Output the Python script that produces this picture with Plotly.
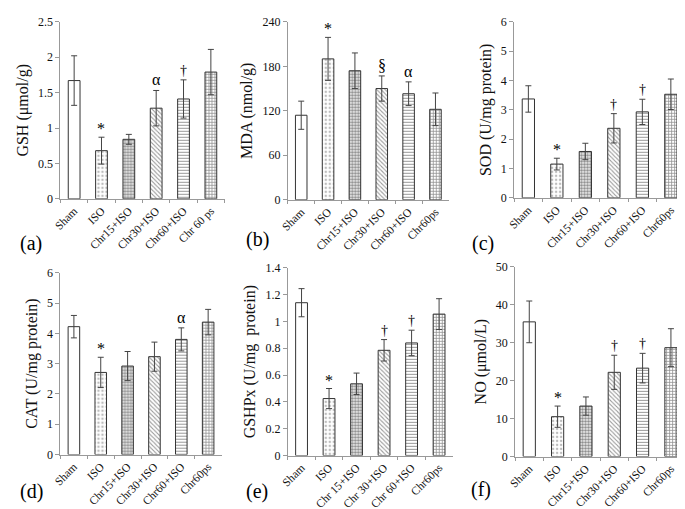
import plotly.graph_objects as go

labels_a = ["Sham", "ISO", "Chr15+ISO", "Chr30+ISO", "Chr60+ISO", "Chr 60 ps"]
labels_std = ["Sham", "ISO", "Chr15+ISO", "Chr30+ISO", "Chr60+ISO", "Chr60ps"]
labels_e = ["Sham", "ISO", "Chr 15+ISO", "Chr 30+ISO", "Chr 60+ISO", "Chr60ps"]

gsh = [1.67, 0.68, 0.84, 1.28, 1.41, 1.79]
gsh_err = [0.35, 0.19, 0.07, 0.25, 0.27, 0.32]
mda = [114, 190, 174, 150, 143, 122]
mda_err = [19, 29, 24, 17, 16, 22]
sod = [3.37, 1.15, 1.58, 2.37, 2.93, 3.53]
sod_err = [0.45, 0.2, 0.28, 0.5, 0.43, 0.52]
cat = [4.22, 2.71, 2.92, 3.23, 3.8, 4.37]
cat_err = [0.37, 0.5, 0.48, 0.48, 0.38, 0.42]
gshpx = [1.14, 0.425, 0.535, 0.785, 0.84, 1.055]
gshpx_err = [0.105, 0.075, 0.08, 0.08, 0.095, 0.115]
no = [35.5, 10.5, 13.3, 22.2, 23.3, 28.7]
no_err = [5.5, 2.8, 2.4, 4.5, 3.9, 5.0]

sig_a = ["", "*", "", "α", "†", ""]
sig_b = ["", "*", "", "§", "α", ""]
sig_c = ["", "*", "", "†", "†", ""]
sig_d = ["", "*", "", "", "α", ""]
sig_e = ["", "*", "", "†", "†", ""]
sig_f = ["", "*", "", "†", "†", ""]

panels = [
    dict(lab=labels_a, y=gsh, e=gsh_err, sig=sig_a, title="GSH (μmol/g)", rng=[0, 2.5],
         tv=[0, 0.5, 1, 1.5, 2, 2.5], tt=["0", "0.5", "1", "1.5", "2", "2.5"],
         xd=[45, 211], yd=[7, 189], letter="(a)", lp=(2, 235)),
    dict(lab=labels_std, y=mda, e=mda_err, sig=sig_b, title="MDA (nmol/g)", rng=[0, 240],
         tv=[0, 60, 120, 180, 240], tt=["0", "60", "120", "180", "240"],
         xd=[275, 438], yd=[7, 190], letter="(b)", lp=(231, 231)),
    dict(lab=labels_std, y=sod, e=sod_err, sig=sig_c, title="SOD (U/mg protein)", rng=[0, 6],
         tv=[0, 1, 2, 3, 4, 5, 6], tt=["0", "1", "2", "3", "4", "5", "6"],
         xd=[504, 677], yd=[7, 188], letter="(c)", lp=(459, 235)),
    dict(lab=labels_std, y=cat, e=cat_err, sig=sig_d, title="CAT (U/mg protein)", rng=[0, 6],
         tv=[0, 1, 2, 3, 4, 5, 6], tt=["0", "1", "2", "3", "4", "5", "6"],
         xd=[45, 208], yd=[265, 452], letter="(d)", lp=(2, 490)),
    dict(lab=labels_e, y=gshpx, e=gshpx_err, sig=sig_e, title="GSHPx (U/mg  protein)", rng=[0, 1.4],
         tv=[0, 0.2, 0.4, 0.6, 0.8, 1, 1.2, 1.4], tt=["0", "0.2", "0.4", "0.6", "0.8", "1", "1.2", "1.4"],
         xd=[275, 442], yd=[260, 453], letter="(e)", lp=(231, 490)),
    dict(lab=labels_std, y=no, e=no_err, sig=sig_f, title="NO (μmol/L)", rng=[0, 50],
         tv=[0, 10, 20, 30, 40, 50], tt=["0", "10", "20", "30", "40", "50"],
         xd=[505, 677], yd=[259, 454], letter="(f)", lp=(458, 488)),
]

W, H = 685, 509
patterns = [
    dict(shape="", fgcolor="#333", size=4, solidity=0.3),
    dict(shape=".", fgcolor="#777", size=4, solidity=0.3),
    dict(shape=".", fgcolor="#111", size=3, solidity=0.6),
    dict(shape="\\", fgcolor="#333", size=3, solidity=0.35),
    dict(shape="-", fgcolor="#333", size=3, solidity=0.35),
    dict(shape="+", fgcolor="#222", size=3, solidity=0.45),
]

fig = go.Figure()
font = "Liberation Serif"
annotations = []
layout = {}
for i, p in enumerate(panels):
    n = i + 1
    xa = "x" if n == 1 else f"x{n}"
    ya = "y" if n == 1 else f"y{n}"
    fig.add_trace(go.Bar(
        x=p["lab"], y=p["y"], xaxis=xa, yaxis=ya, width=0.43,
        marker=dict(color="white", line=dict(color="#333", width=1),
                    pattern=dict(shape=[pt["shape"] for pt in patterns],
                                 fgcolor=[pt["fgcolor"] for pt in patterns],
                                 size=[pt["size"] for pt in patterns],
                                 solidity=[pt["solidity"] for pt in patterns])),
        error_y=dict(type="data", array=p["e"], color="#444", thickness=1, width=3),
        showlegend=False,
    ))
    xd = [p["xd"][0] / W, p["xd"][1] / W]
    yd = [1 - p["yd"][1] / H, 1 - p["yd"][0] / H]
    layout["xaxis" if n == 1 else f"xaxis{n}"] = dict(
        domain=xd, anchor=ya, type="category", range=[-0.5, 5.5],
        showline=True, linecolor="#999", linewidth=1, ticks="outside", tickson="boundaries",
        ticklen=3, tickcolor="#999", tickangle=-45, showgrid=False, zeroline=False,
        tickfont=dict(family=font, size=11.5, color="#111"),
    )
    layout["yaxis" if n == 1 else f"yaxis{n}"] = dict(
        domain=yd, anchor=xa, range=p["rng"], tickvals=p["tv"], ticktext=p["tt"],
        showline=True, linecolor="#999", linewidth=1, ticks="outside", ticklen=4, tickcolor="#999",
        showgrid=False, zeroline=False,
        tickfont=dict(family=font, size=12, color="#111"),
        title=dict(text=p["title"], font=dict(family=font, size=16, color="#111"), standoff=5),
    )
    for lab, v, e, s in zip(p["lab"], p["y"], p["e"], p["sig"]):
        if s:
            annotations.append(dict(
                x=lab, y=v + e, xref=xa, yref=ya, text=s, showarrow=False,
                yanchor="bottom", yshift=-2 if s == "*" else 0,
                font=dict(family=font, size=16 if s != "†" else 14, color="#000000"),
            ))
    annotations.append(dict(
        x=p["lp"][0] / W, y=1 - p["lp"][1] / H, xref="paper", yref="paper",
        xanchor="left", yanchor="middle", text=p["letter"], showarrow=False,
        font=dict(family=font, size=20, color="#000000"),
    ))

fig.update_layout(
    width=W, height=H, margin=dict(l=0, r=0, t=0, b=0),
    paper_bgcolor="white", plot_bgcolor="white",
    annotations=annotations, **layout,
)
fig.write_html("out.html")
